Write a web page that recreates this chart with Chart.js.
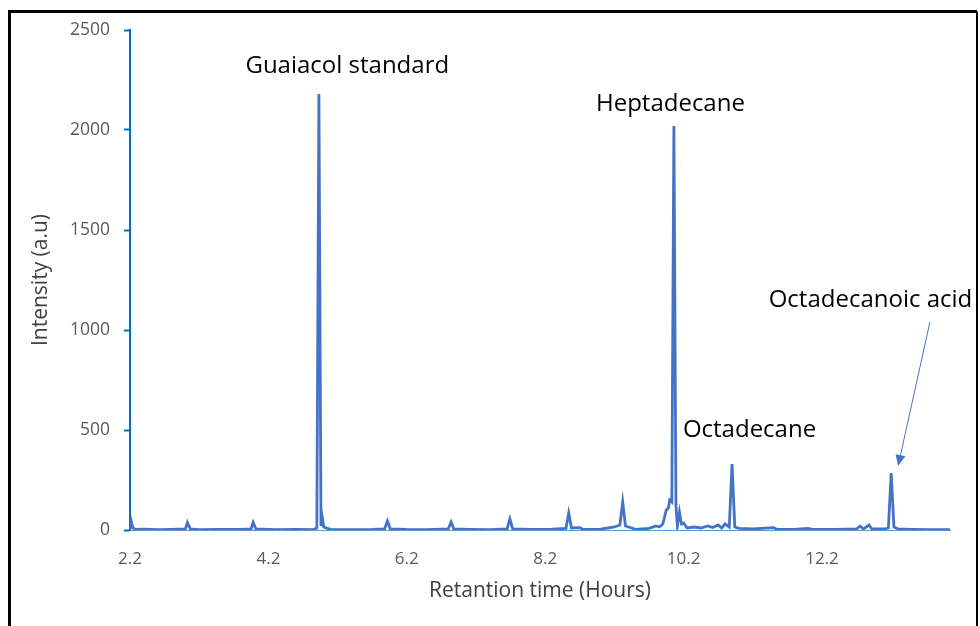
<!DOCTYPE html>
<html>
<head>
<meta charset="utf-8">
<script src="https://cdn.jsdelivr.net/npm/chart.js@4"></script>
<style>
  body { margin: 0; background: #fff; }
  canvas { display: block; }
</style>
</head>
<body>
<canvas id="chart" width="980" height="626"></canvas>
<script>
// retention time (hours) and intensity
const times = [2.20, 2.22, 2.24, 2.27, 2.40, 2.60, 2.80, 3.00, 3.03, 3.07, 3.20, 3.50, 3.80, 3.95, 3.98, 4.02,
  4.30, 4.60, 4.85, 4.90, 4.93, 4.96, 4.98, 5.00, 5.05, 5.10, 5.40, 5.70, 5.88, 5.92, 5.96, 6.20, 6.50,
  6.80, 6.84, 6.88, 7.10, 7.40, 7.65, 7.69, 7.73, 8.00, 8.30, 8.50, 8.54, 8.58, 8.70, 8.75, 9.00, 9.20,
  9.28, 9.32, 9.36, 9.45, 9.50, 9.70, 9.80, 9.85, 9.90, 9.95, 9.98, 10.00, 10.03, 10.06, 10.09, 10.11,
  10.14, 10.17, 10.20, 10.25, 10.35, 10.45, 10.55, 10.62, 10.70, 10.75, 10.80, 10.86, 10.90, 10.94,
  11.00, 11.20, 11.50, 11.55, 11.80, 12.00, 12.05, 12.40, 12.70, 12.75, 12.80, 12.88, 12.92, 13.10,
  13.16, 13.20, 13.24, 13.30, 13.50, 13.80, 14.05];
const intensity = [2, 40, 12, 3, 4, 2, 3, 5, 38, 6, 2, 3, 3, 5, 38, 5,
  2, 3, 2, 10, 2180, 20, 60, 15, 8, 3, 2, 3, 6, 45, 6, 3, 2,
  6, 40, 5, 3, 2, 6, 55, 6, 3, 4, 8, 85, 10, 12, 3, 4, 15,
  25, 140, 20, 10, 3, 8, 20, 15, 30, 100, 110, 150, 140, 2020, 120, 20,
  90, 30, 35, 10, 15, 10, 20, 12, 25, 10, 30, 15, 330, 15,
  8, 5, 12, 4, 3, 8, 3, 3, 5, 20, 5, 25, 5, 5,
  10, 285, 15, 5, 3, 2, 2];

const xTicks = [2.2, 4.2, 6.2, 8.2, 10.2, 12.2];
const yTicks = [0, 500, 1000, 1500, 2000, 2500];

// peak labels: [text, time, intensity, align]
const peakLabels = [
  ['Guaiacol standard', 5.34, 2320, 'center'],
  ['Heptadecane', 10.01, 2130, 'center'],
  ['Octadecane', 10.19, 500, 'left'],
  ['Octadecanoic acid', 11.43, 1150, 'left']
];
const arrowFrom = [13.76, 1040];
const arrowTo = [13.30, 320];

const FONT = '"Open Sans", Lato, sans-serif';
const points = times.map((t, i) => ({ x: t, y: intensity[i] }));

const annotate = {
  id: 'annotate',
  afterDraw(chart) {
    const ctx = chart.ctx;
    const xs = chart.scales.x, ys = chart.scales.y;
    ctx.save();
    ctx.fillStyle = '#000';
    ctx.font = '24px ' + FONT;
    ctx.textBaseline = 'middle';
    peakLabels.forEach(l => {
      ctx.textAlign = l[3];
      ctx.fillText(l[0], xs.getPixelForValue(l[1]), ys.getPixelForValue(l[2]));
    });
    // arrow to the acid peak
    const x1 = xs.getPixelForValue(arrowFrom[0]), y1 = ys.getPixelForValue(arrowFrom[1]);
    const x2 = xs.getPixelForValue(arrowTo[0]), y2 = ys.getPixelForValue(arrowTo[1]);
    const ang = Math.atan2(y2 - y1, x2 - x1);
    ctx.strokeStyle = '#4472C4';
    ctx.fillStyle = '#4472C4';
    ctx.lineWidth = 1;
    ctx.beginPath();
    ctx.moveTo(x1, y1);
    ctx.lineTo(x2 - 8 * Math.cos(ang), y2 - 8 * Math.sin(ang));
    ctx.stroke();
    ctx.beginPath();
    ctx.moveTo(x2, y2);
    ctx.lineTo(x2 - 11 * Math.cos(ang) + 5 * Math.sin(ang), y2 - 11 * Math.sin(ang) - 5 * Math.cos(ang));
    ctx.lineTo(x2 - 11 * Math.cos(ang) - 5 * Math.sin(ang), y2 - 11 * Math.sin(ang) + 5 * Math.cos(ang));
    ctx.closePath();
    ctx.fill();
    // outer frame
    ctx.clearRect(978, 0, 2, 626);
    ctx.strokeStyle = '#000';
    ctx.lineWidth = 3;
    ctx.beginPath();
    ctx.moveTo(9.5, 626);
    ctx.lineTo(9.5, 11.5);
    ctx.lineTo(977, 11.5);
    ctx.stroke();
    ctx.lineWidth = 2;
    ctx.beginPath();
    ctx.moveTo(977, 11.5);
    ctx.lineTo(977, 626);
    ctx.stroke();
    ctx.restore();
  }
};

new Chart(document.getElementById('chart'), {
  type: 'line',
  data: {
    datasets: [{
      data: points,
      borderColor: '#4472C4',
      borderWidth: 2.8,
      pointRadius: 0,
      tension: 0,
      fill: false
    }]
  },
  options: {
    responsive: false,
    animation: false,
    layout: { padding: { left: 28, top: 30, right: 30, bottom: 22 } },
    plugins: { legend: { display: false }, tooltip: { enabled: false } },
    scales: {
      x: {
        type: 'linear',
        min: 2.2,
        max: 14.05,
        afterBuildTicks: s => { s.ticks = xTicks.map(v => ({ value: v })); },
        afterFit: s => { s.height = 74; },
        grid: { display: false },
        border: { color: '#5B9BD5', width: 1 },
        ticks: {
          padding: 11,
          color: '#595959',
          font: { family: FONT, size: 17 },
          callback: v => v.toFixed(1),
          maxRotation: 0
        },
        title: {
          display: true,
          text: 'Retantion time (Hours)',
          color: '#404040',
          padding: 0,
          font: { family: FONT, size: 21 }
        }
      },
      y: {
        min: 0,
        max: 2500,
        afterBuildTicks: s => { s.ticks = yTicks.map(v => ({ value: v })); },
        afterFit: s => { s.width = 102; },
        grid: { drawOnChartArea: false, drawTicks: true, tickLength: 6, tickColor: '#0070C0', tickWidth: 2 },
        border: { color: '#0070C0', width: 2 },
        ticks: {
          padding: 14,
          color: '#595959',
          font: { family: FONT, size: 17.5 },
          callback: v => String(v)
        },
        title: {
          display: true,
          text: 'Intensity (a.u)',
          color: '#404040',
          padding: 0,
          font: { family: FONT, size: 21 }
        }
      }
    }
  },
  plugins: [annotate]
});
</script>
</body>
</html>
